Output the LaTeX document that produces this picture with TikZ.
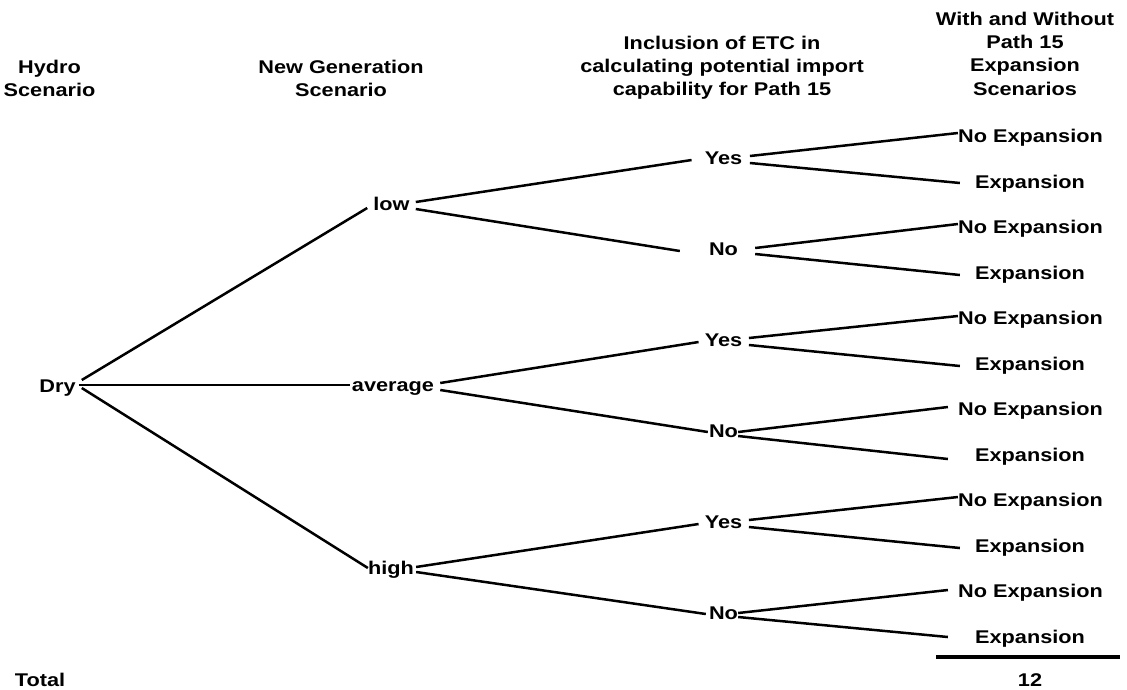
\documentclass[tikz,border=0pt]{standalone}
\usepackage{fontspec}
\setmainfont{Liberation Sans}[FakeStretch=1.18]
\begin{document}
\begin{tikzpicture}[x=1pt,y=-1pt,
  lbl/.style={font=\fontsize{18.4}{23.3}\selectfont\bfseries, inner sep=0pt, anchor=base},
  hdr/.style={font=\fontsize{18.4}{23.3}\selectfont\bfseries, inner sep=0pt, align=center, anchor=center},
  edge/.style={line width=2.5pt},
  rule/.style={line width=4pt}]
\useasboundingbox (0,0) rectangle (1127,689);

% headers
\node[hdr] (hHydro) at (49.5,78.5) {Hydro\\Scenario};
\node[hdr] (hGen) at (341,78.5) {New Generation\\Scenario};
\node[hdr] (hETC) at (722,67.7) {Inclusion of ETC in\\calculating potential import\\capability for Path 15};
\node[hdr] (hExp) at (1025,53.5) {With and Without\\Path 15\\Expansion\\Scenarios};

% tree nodes
\node[lbl] (dry) at (57.5,392) {Dry};
\node[lbl] (low) at (391.5,210) {low};
\node[lbl] (avg) at (393,391) {average};
\node[lbl] (high) at (391,574) {high};

\node[lbl] (y1) at (723.5,164) {Yes};
\node[lbl] (n1) at (723.5,255) {No};
\node[lbl] (y2) at (723.5,346) {Yes};
\node[lbl] (n2) at (723.5,437) {No};
\node[lbl] (y3) at (723.5,528) {Yes};
\node[lbl] (n3) at (723.5,619) {No};

\node[lbl] (ne1) at (1030.5,142.5) {No Expansion};
\node[lbl] (e1)  at (1030,188) {Expansion};
\node[lbl] (ne2) at (1030.5,233.5) {No Expansion};
\node[lbl] (e2)  at (1030,279) {Expansion};
\node[lbl] (ne3) at (1030.5,324.5) {No Expansion};
\node[lbl] (e3)  at (1030,370) {Expansion};
\node[lbl] (ne4) at (1030.5,415.5) {No Expansion};
\node[lbl] (e4)  at (1030,461) {Expansion};
\node[lbl] (ne5) at (1030.5,506.5) {No Expansion};
\node[lbl] (e5)  at (1030,552) {Expansion};
\node[lbl] (ne6) at (1030.5,597.5) {No Expansion};
\node[lbl] (e6)  at (1030,643) {Expansion};

\node[lbl] (total) at (40,686) {Total};
\node[lbl] (twelve) at (1030,686) {12};

% level 1
\draw[edge] ([shift={(6,-12)}]dry.base east) -- ([shift={(-6,-2)}]low.base west);
\draw[edge] ([shift={(3,-7)}]dry.base east) -- ([shift={(-2,-6)}]avg.base west);
\draw[edge] ([shift={(6,-4)}]dry.base east) -- ([shift={(0,-6)}]high.base west);

% level 2
\draw[edge] ([shift={(6,-8)}]low.base east) -- ([shift={(-13,-4)}]y1.base west);
\draw[edge] ([shift={(6,-1)}]low.base east) -- ([shift={(-29,-4)}]n1.base west);
\draw[edge] ([shift={(6,-8)}]avg.base east) -- ([shift={(-6,-4)}]y2.base west);
\draw[edge] ([shift={(6,-1)}]avg.base east) -- ([shift={(-1,-5)}]n2.base west);
\draw[edge] ([shift={(2,-7)}]high.base east) -- ([shift={(-6,-4)}]y3.base west);
\draw[edge] ([shift={(2,-2)}]high.base east) -- ([shift={(-3,-5)}]n3.base west);

% level 3
\draw[edge] ([shift={(7.5,-8)}]y1.base east) -- ([shift={(0,-9.5)}]ne1.base west);
\draw[edge] ([shift={(7.5,-1)}]y1.base east) -- ([shift={(-15,-5)}]e1.base west);
\draw[edge] ([shift={(17,-7)}]n1.base east) -- ([shift={(0,-9.5)}]ne2.base west);
\draw[edge] ([shift={(17,-1)}]n1.base east) -- ([shift={(-15,-4)}]e2.base west);
\draw[edge] ([shift={(6.5,-8)}]y2.base east) -- ([shift={(0,-8.5)}]ne3.base west);
\draw[edge] ([shift={(6.5,-1)}]y2.base east) -- ([shift={(-15,-4)}]e3.base west);
\draw[edge] ([shift={(0,-5)}]n2.base east) -- ([shift={(-10,-8.5)}]ne4.base west);
\draw[edge] ([shift={(0,-1)}]n2.base east) -- ([shift={(-27,-2)}]e4.base west);
\draw[edge] ([shift={(6.5,-8)}]y3.base east) -- ([shift={(0,-9.5)}]ne5.base west);
\draw[edge] ([shift={(6.5,-1)}]y3.base east) -- ([shift={(-15,-4)}]e5.base west);
\draw[edge] ([shift={(0,-6)}]n3.base east) -- ([shift={(-10,-7.5)}]ne6.base west);
\draw[edge] ([shift={(0,-2)}]n3.base east) -- ([shift={(-27,-6)}]e6.base west);

% total rule
\coordinate (ruleL) at (936,657);
\coordinate (ruleR) at (1120,657);
\draw[rule] (ruleL) -- (ruleR);
\end{tikzpicture}
\end{document}
